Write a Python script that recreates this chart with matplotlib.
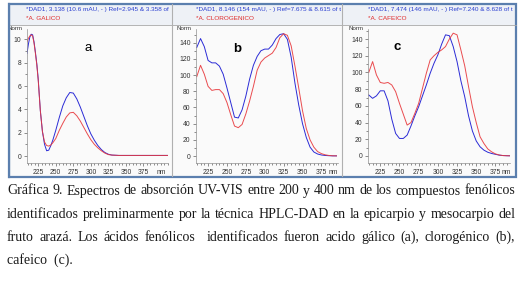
import matplotlib
matplotlib.use("Agg")
import matplotlib.pyplot as plt
from matplotlib.patches import Rectangle
from matplotlib.ticker import MultipleLocator

W, H = 521, 286

# ---------------- data ----------------
nm_a = [209, 211, 213, 215, 217, 219, 221, 223, 225, 228, 231, 234, 237, 240, 243, 246,
        250, 255, 260, 265, 270, 275, 280, 285, 290, 295, 300, 305, 310, 315, 320, 325,
        330, 340, 350, 360, 370, 380, 390, 400, 410]
blue_a = [8.8, 9.6, 10.2, 10.45, 10.4, 9.8, 8.9, 7.9, 6.6, 3.9, 2.1, 1.0, 0.45, 0.5, 0.9, 1.4,
          2.2, 3.3, 4.3, 5.0, 5.45, 5.4, 4.9, 4.2, 3.4, 2.6, 1.9, 1.35, 0.9, 0.55, 0.3, 0.15,
          0.08, 0.05, 0.05, 0.05, 0.05, 0.05, 0.05, 0.05, 0.05]
red_a = [9.8, 10.1, 10.3, 10.4, 10.3, 9.7, 8.8, 7.8, 6.5, 3.9, 2.1, 1.2, 0.9, 0.85, 0.95, 1.15,
         1.5, 2.2, 2.8, 3.35, 3.7, 3.75, 3.45, 3.0, 2.45, 1.9, 1.4, 1.0, 0.7, 0.45, 0.25, 0.12,
         0.08, 0.05, 0.05, 0.05, 0.05, 0.05, 0.05, 0.05, 0.05]

nm_bc = [210, 215, 220, 225, 230, 235, 240, 245, 250, 255, 260, 265, 270, 275, 280, 285, 290,
         295, 300, 305, 310, 315, 320, 325, 330, 335, 340, 345, 350, 355, 360, 365, 370, 375,
         380, 385, 390, 395]
blue_b = [134, 145, 135, 118, 115, 115, 111, 101, 84, 66, 48, 47, 57, 74, 95, 112, 123,
          130, 132, 132, 137, 145, 150, 151, 144, 122, 90, 63, 40, 23, 11, 5, 2.5, 1.3,
          0.7, 0.4, 0.2, 0.2]
red_b = [98, 112, 101, 86, 81, 82, 82, 77, 66, 51, 37, 35, 39, 52, 68, 86, 106,
         116, 121, 124, 127, 134, 146, 151, 149, 136, 111, 84, 56, 34, 20, 11, 5.5, 3,
         1.5, 0.7, 0.3, 0.2]
blue_c = [73, 69, 72, 78, 78, 66, 44, 27, 21, 21, 25, 36, 48, 59, 72, 85, 99,
          111, 121, 134, 145, 144, 131, 113, 90, 71, 48, 30, 18, 11, 7, 4.5, 3, 2,
          1, 0.5, 0.3, 0.2]
red_c = [100, 113, 97, 88, 87, 88, 85, 77, 63, 50, 37, 40, 51, 63, 81, 99, 115,
         120, 124, 127, 131, 140, 147, 145, 127, 108, 83, 59, 40, 23, 15, 8.5, 5, 2.5,
         1.2, 0.5, 0.3, 0.2]

headers_blue = ["*DAD1, 3.138 (10.6 mAU, - ) Ref=2.945 & 3.358 of",
                "*DAD1, 8.146 (154 mAU, - ) Ref=7.675 & 8.615 of t",
                "*DAD1, 7.474 (146 mAU, - ) Ref=7.240 & 8.628 of t"]
headers_red = ["*A. GALICO", "*A. CLOROGENICO", "*A. CAFEICO"]
panel_letters = ["a", "b", "c"]
x_ticks = [225, 250, 275, 300, 325, 350, 375]
y_ticks_a = [0, 2, 4, 6, 8, 10]
y_ticks_bc = [0, 20, 40, 60, 80, 100, 120, 140]

caption_lines = [
    "Gráfica 9. Espectros de absorción UV-VIS entre 200 y 400 nm de los compuestos fenólicos",
    "identificados preliminarmente por la técnica HPLC-DAD en la epicarpio y mesocarpio del",
    "fruto arazá. Los ácidos fenólicos  identificados fueron acido gálico (a), clorogénico (b),",
    "cafeico  (c).",
]

BLUE = "#2b2bd6"
RED = "#e8383c"
FRAME = "#5b7fae"

fig = plt.figure(figsize=(W / 100, H / 100), dpi=100)
fig.patch.set_facecolor("white")

bg = fig.add_axes([0, 0, 1, 1], zorder=-5)
bg.set_xlim(0, W)
bg.set_ylim(H, 0)
bg.axis("off")
bg.add_patch(Rectangle((8.5, 4), 507.5, 21, facecolor="#eef1f6", edgecolor="none"))
bg.add_patch(Rectangle((8.5, 25), 507.5, 151, facecolor="#fafafa", edgecolor="none"))
bg.plot([8.5, 516], [25, 25], color="#a8a8a8", lw=0.6)
for xs in (171.5, 341.5):
    bg.plot([xs, xs], [4, 176], color="#b0b0b0", lw=0.8)
bg.add_patch(Rectangle((8.5, 4), 507.5, 172.5, facecolor="none", edgecolor=FRAME, lw=1.6))


def pax(left, right, top, bottom):
    return fig.add_axes([left / W, 1 - bottom / H, (right - left) / W, (bottom - top) / H])


panels = [
    dict(box=(27, 168, 29, 163), xlim=(209, 410), ylim=(-0.6, 10.9), nm=nm_a,
         blue=blue_a, red=red_a, yt=y_ticks_a, ymin=1, nmx=400, hx=26, lx=88, ly=48),
    dict(box=(196, 338, 29, 163), xlim=(209, 397), ylim=(-8.6, 156.8), nm=nm_bc,
         blue=blue_b, red=red_b, yt=y_ticks_bc, ymin=10, nmx=390, hx=196, lx=237, ly=49),
    dict(box=(368, 510, 29, 163), xlim=(209, 394), ylim=(-8.4, 152), nm=nm_bc,
         blue=blue_c, red=red_c, yt=y_ticks_bc, ymin=10, nmx=389, hx=368, lx=397, ly=47),
]

for i, p in enumerate(panels):
    ax = pax(*p["box"])
    ax.set_facecolor("none")
    ax.plot(p["nm"], p["blue"], color=BLUE, lw=0.7)
    ax.plot(p["nm"], p["red"], color=RED, lw=0.7, alpha=0.9)
    ax.set_xlim(*p["xlim"])
    ax.set_ylim(*p["ylim"])
    for s in ("top", "right"):
        ax.spines[s].set_visible(False)
    for s in ("left", "bottom"):
        ax.spines[s].set_color("#909090")
        ax.spines[s].set_linewidth(0.5)
    ax.set_xticks(x_ticks)
    ax.xaxis.set_minor_locator(MultipleLocator(5))
    ax.set_yticks(p["yt"])
    ax.yaxis.set_minor_locator(MultipleLocator(p["ymin"]))
    ax.tick_params(which="both", colors="#606060", labelcolor="#333333", labelsize=4.9,
                   width=0.5, pad=1.5)
    ax.tick_params(which="major", length=2.5)
    ax.tick_params(which="minor", length=1.3)
    for lab in ax.get_xticklabels() + ax.get_yticklabels():
        lab.set_family("Liberation Sans")
    ax.text(p["nmx"], -0.045, "nm", transform=ax.get_xaxis_transform(), ha="center",
            va="top", fontsize=4.9, color="#333333", family="Liberation Sans")
    ax.text(-0.03, 1.0, "Norm", transform=ax.transAxes, ha="right", va="center",
            fontsize=4.4, color="#333333", family="Liberation Sans", clip_on=False)
    fig.text(p["hx"] / W, 1 - 9 / H, headers_blue[i], color="#2b3fd0", fontsize=4.6,
             family="Liberation Sans", va="center", ha="left")
    fig.text(p["hx"] / W, 1 - 18 / H, headers_red[i], color="#e02828", fontsize=4.6,
             family="Liberation Sans", va="center", ha="left")
    fig.text(p["lx"] / W, 1 - p["ly"] / H, panel_letters[i], color="black", fontsize=9.5,
             family="Liberation Sans", weight="bold" if i else "normal",
             ha="center", va="center")

bg2 = fig.add_axes([0, 0, 1, 1], zorder=10)
bg2.set_xlim(0, W)
bg2.set_ylim(H, 0)
bg2.axis("off")
bg2.add_patch(Rectangle((0, 0), 7.7, 180, facecolor="white", edgecolor="none"))
bg2.plot([8.5, 8.5], [4, 176.5], color=FRAME, lw=1.6)

# caption (justified)
renderer = fig.canvas.get_renderer()
x0, x1 = 7.0, 515.0
ys = [191, 214.3, 237.6, 260]
cap_kw = dict(fontsize=10.0, family="Liberation Serif", color="#1a1a1a", va="center")
for li, (line, y) in enumerate(zip(caption_lines, ys)):
    yf = 1 - y / H
    if li == len(caption_lines) - 1:
        fig.text(x0 / W, yf, line, ha="left", **cap_kw)
        continue
    words = line.split(" ")
    texts, widths = [], []
    for w in words:
        if w == "":
            texts.append(None)
            widths.append(0.0)
            continue
        t = fig.text(0, yf, w, ha="left", **cap_kw)
        texts.append(t)
        widths.append(t.get_window_extent(renderer).width)
    gap = (x1 - x0 - sum(widths)) / (len(words) - 1)
    x = x0
    for t, wdt in zip(texts, widths):
        if t is not None:
            t.set_x(x / W)
        x += wdt + gap

fig.savefig("out.png", dpi=100)
